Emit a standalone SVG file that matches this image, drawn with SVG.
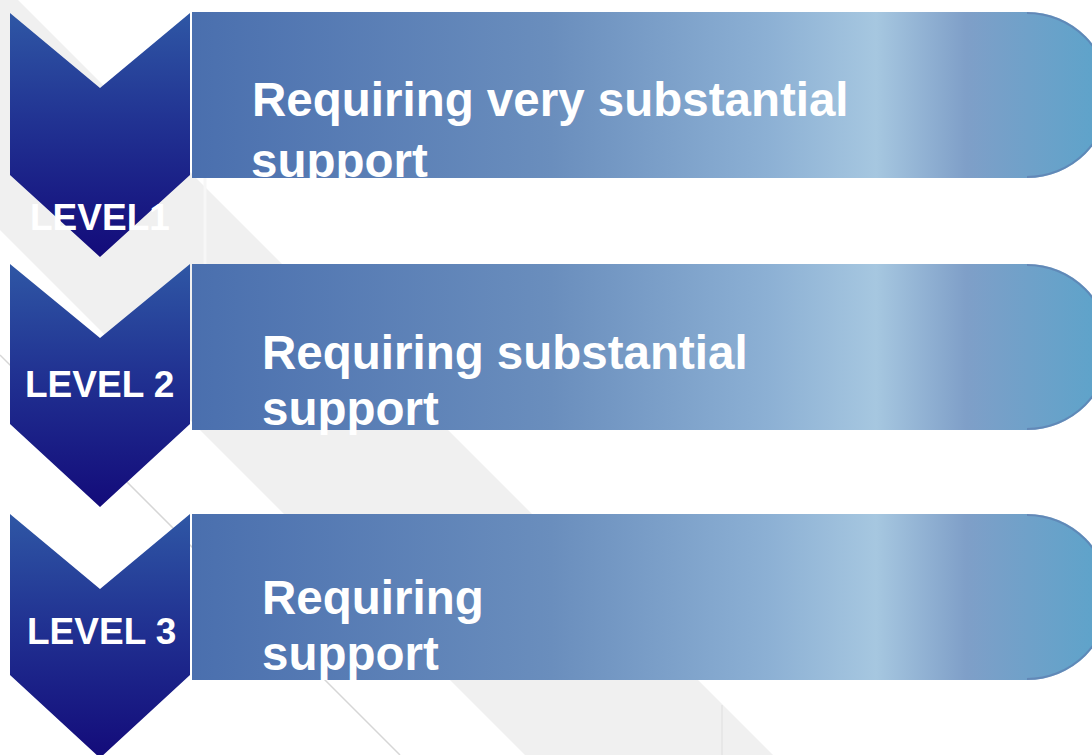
<svg xmlns="http://www.w3.org/2000/svg" width="1092" height="755" viewBox="0 0 1092 755">
  <defs>
    <linearGradient id="barGrad" gradientUnits="userSpaceOnUse" x1="192" y1="0" x2="1092" y2="0">
      <stop offset="0" stop-color="#4a6fae"/>
      <stop offset="0.4" stop-color="#6a8ebd"/>
      <stop offset="0.64" stop-color="#8cb0d4"/>
      <stop offset="0.76" stop-color="#a6c7e0"/>
      <stop offset="0.86" stop-color="#7f9fc8"/>
      <stop offset="1" stop-color="#5fa3ca"/>
    </linearGradient>
    <linearGradient id="chevGrad" x1="0" y1="0" x2="0" y2="1">
      <stop offset="0" stop-color="#2f57a5"/>
      <stop offset="0.45" stop-color="#213292"/>
      <stop offset="1" stop-color="#130b7a"/>
    </linearGradient>
    <clipPath id="clip1">
      <path d="M192,12 H1027 A83,83 0 0 1 1027,178 H192 Z"/>
    </clipPath>
    <style>
      .bar { fill: url(#barGrad); }
      .cap { fill: none; stroke: #5b78ac; stroke-width: 2; stroke-opacity: 0.6; }
      .chev { fill: url(#chevGrad); }
      .lvl { font-family: "Liberation Sans", Arial, sans-serif; font-weight: bold; font-size: 37px; fill: #ffffff; }
      .big { font-family: "Liberation Sans", Arial, sans-serif; font-weight: bold; font-size: 47.5px; fill: #ffffff; }
    </style>
  </defs>

  <g id="background">
    <rect x="0" y="0" width="1092" height="755" fill="#ffffff"/>
    <polygon points="-230,0 18,0 773,755 525,755" fill="#f0f0f0"/>
    <line x1="205" y1="178" x2="205" y2="264" stroke="#f7f7f7" stroke-width="3"/>
    <line x1="722" y1="705" x2="722" y2="755" stroke="#e4e4e4" stroke-width="1.5"/>
    <line x1="0" y1="355" x2="400" y2="755" stroke="#d6d6d6" stroke-width="1.5"/>
  </g>

  <g id="connectors"></g>

  <g id="bar1">
    <path class="bar" d="M192,12 H1027 A83,83 0 0 1 1027,178 H192 Z"/>
    <path class="cap" d="M1027,13 A82,82 0 0 1 1027,177"/>
    <g clip-path="url(#clip1)">
      <text class="big" x="252" y="116">Requiring very substantial</text>
      <text class="big" x="251" y="177">support</text>
    </g>
  </g>

  <g id="bar2">
    <path class="bar" d="M192,264 H1027 A83,83 0 0 1 1027,430 H192 Z"/>
    <path class="cap" d="M1027,265 A82,82 0 0 1 1027,429"/>
    <text class="big" x="262" y="369">Requiring substantial</text>
    <text class="big" x="262" y="425">support</text>
  </g>

  <g id="bar3">
    <path class="bar" d="M192,514 H1027 A83,83 0 0 1 1027,680 H192 Z"/>
    <path class="cap" d="M1027,515 A82,82 0 0 1 1027,679"/>
    <text class="big" x="262" y="614">Requiring</text>
    <text class="big" x="262" y="670">support</text>
  </g>

  <g id="level1">
    <polygon class="chev" points="10,13 100,88 190,13 190,175 100,257 10,175"/>
    <text class="lvl" x="30" y="230">LEVEL1</text>
  </g>

  <g id="level2">
    <polygon class="chev" points="10,264 100,338 190,264 190,424 100,507 10,424"/>
    <text class="lvl" x="25" y="397">LEVEL 2</text>
  </g>

  <g id="level3">
    <polygon class="chev" points="10,514 100,589 190,514 190,675 100,758 10,675"/>
    <text class="lvl" x="27" y="644">LEVEL 3</text>
  </g>
</svg>
